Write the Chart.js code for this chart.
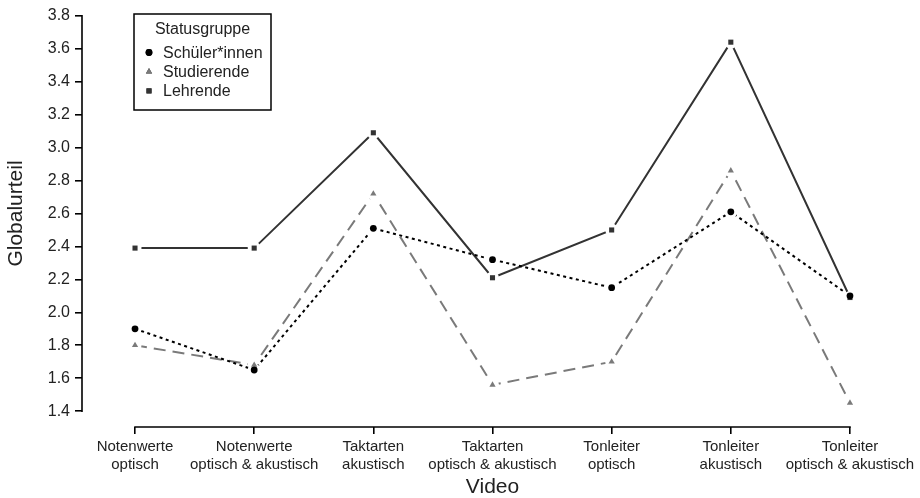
<!DOCTYPE html>
<html>
<head>
<meta charset="utf-8">
<script src="https://cdn.jsdelivr.net/npm/chart.js@4/dist/chart.umd.min.js"></script>
<style>
  html, body { margin: 0; padding: 0; background: #fff; }
  #wrap { width: 920px; height: 498px; }
</style>
</head>
<body>
<div id="wrap"><canvas id="c" width="920" height="498"></canvas></div>
<script>
// Video categories (two-line tick labels)
const categories = [
  ['Notenwerte', 'optisch'],
  ['Notenwerte', 'optisch & akustisch'],
  ['Taktarten', 'akustisch'],
  ['Taktarten', 'optisch & akustisch'],
  ['Tonleiter', 'optisch'],
  ['Tonleiter', 'akustisch'],
  ['Tonleiter', 'optisch & akustisch']
];

// Mean global rating per status group
const seriesNames = ['Schüler*innen', 'Studierende', 'Lehrende'];
const schueler    = [1.90, 1.65, 2.51, 2.32, 2.15, 2.61, 2.10];
const studierende = [1.80, 1.68, 2.72, 1.56, 1.70, 2.86, 1.45];
const lehrende    = [2.39, 2.39, 3.09, 2.21, 2.50, 3.64, 2.09];

const yTicks = [1.4, 1.6, 1.8, 2.0, 2.2, 2.4, 2.6, 2.8, 3.0, 3.2, 3.4, 3.6, 3.8];
const legendTitle = 'Statusgruppe';
const xTitle = 'Video';
const yTitle = 'Globalurteil';

const FONT = 'Liberation Sans, Arial, Helvetica, sans-serif';
const TEXT = '#222';

const toPoints = vals => vals.map((v, i) => ({ x: i + 1, y: v }));

const datasets = [
  {
    label: seriesNames[0], data: toPoints(schueler),
    borderColor: '#000', backgroundColor: '#000', borderWidth: 2,
    borderDash: [3, 3.5], pointStyle: 'circle', pointRadius: 3.4,
    pointBackgroundColor: '#000', pointBorderWidth: 0
  },
  {
    label: seriesNames[1], data: toPoints(studierende),
    borderColor: '#7a7a7a', backgroundColor: '#7a7a7a', borderWidth: 2,
    borderDash: [12, 7], pointStyle: 'triangle', pointRadius: 3.6,
    pointBackgroundColor: '#7a7a7a', pointBorderWidth: 0
  },
  {
    label: seriesNames[2], data: toPoints(lehrende),
    borderColor: '#333', backgroundColor: '#333', borderWidth: 2,
    pointStyle: 'rect', pointRadius: 3.6,
    pointBackgroundColor: '#333', pointBorderWidth: 0
  }
];

// Leave a small gap in each line around its own markers (type "b" look)
const GAP = 6.5;
const markerGaps = {
  id: 'markerGaps',
  beforeDatasetDraw(chart, args) {
    const ctx = chart.ctx;
    ctx.save();
    ctx.beginPath();
    ctx.rect(0, 0, chart.width, chart.height);
    args.meta.data.forEach(p => {
      ctx.moveTo(p.x + GAP, p.y);
      ctx.arc(p.x, p.y, GAP, 0, Math.PI * 2);
    });
    ctx.clip('evenodd');
  },
  afterDatasetDraw(chart, args) {
    const ctx = chart.ctx;
    ctx.restore();
    args.meta.data.forEach(p => p.draw(ctx, chart.chartArea));
  }
};

// Axis lines spanning only the first to last tick
const axisLines = {
  id: 'axisLines',
  afterDraw(chart) {
    const { ctx, chartArea, scales } = chart;
    const y = scales.y, x = scales.x;
    ctx.save();
    ctx.strokeStyle = '#000';
    ctx.lineWidth = 1.6;
    ctx.lineCap = 'square';
    ctx.beginPath();
    ctx.moveTo(chartArea.left, y.getPixelForValue(yTicks[0]));
    ctx.lineTo(chartArea.left, y.getPixelForValue(yTicks[yTicks.length - 1]));
    ctx.moveTo(x.getPixelForValue(1), chartArea.bottom);
    ctx.lineTo(x.getPixelForValue(categories.length), chartArea.bottom);
    ctx.stroke();
    ctx.restore();
  }
};

// Boxed legend in the upper left of the plot
const boxLegend = {
  id: 'boxLegend',
  afterDraw(chart) {
    const ctx = chart.ctx;
    const left = 134, top = 14, w = 137, h = 96;
    ctx.save();
    ctx.strokeStyle = '#000';
    ctx.lineWidth = 1.5;
    ctx.strokeRect(left, top, w, h);
    ctx.fillStyle = TEXT;
    ctx.font = '16px ' + FONT;
    ctx.textAlign = 'center';
    ctx.textBaseline = 'alphabetic';
    ctx.fillText(legendTitle, left + w / 2, 34);
    ctx.textAlign = 'left';
    ctx.textBaseline = 'middle';
    chart.data.datasets.forEach((ds, i) => {
      const cy = 52.5 + i * 19.2;
      Chart.helpers.drawPoint(ctx, {
        pointStyle: ds.pointStyle, radius: ds.pointRadius, rotation: 0,
        borderWidth: 0
      }, left + 15, cy);
      ctx.fillStyle = ds.pointBackgroundColor;
      ctx.fill();
      ctx.fillStyle = TEXT;
      ctx.fillText(ds.label, left + 29, cy + 1);
    });
    ctx.restore();
  }
};

new Chart(document.getElementById('c'), {
  type: 'line',
  data: { datasets },
  plugins: [markerGaps, axisLines, boxLegend],
  options: {
    responsive: false,
    animation: false,
    layout: { autoPadding: false, padding: { left: 0, right: 17, top: 0, bottom: 0 } },
    plugins: { legend: { display: false }, tooltip: { enabled: false } },
    scales: {
      x: {
        type: 'linear', min: 0.555, max: 7.445,
        afterBuildTicks: s => { s.ticks = categories.map((c, i) => ({ value: i + 1 })); },
        afterFit: s => { s.height = 71; },
        ticks: {
          callback: (v) => categories[Math.round(v) - 1],
          color: TEXT, font: { family: FONT, size: 15, lineHeight: 1.2 },
          padding: 4, maxRotation: 0, autoSkip: false
        },
        grid: { drawOnChartArea: false, drawTicks: true, tickLength: 7, color: '#000', lineWidth: 1.6 },
        border: { display: false },
        title: {
          display: true, text: xTitle, color: TEXT,
          font: { family: FONT, size: 21 }, padding: { top: 0, bottom: -2 }
        }
      },
      y: {
        type: 'linear', min: 1.304, max: 3.896,
        afterBuildTicks: s => { s.ticks = yTicks.map(v => ({ value: v })); },
        afterFit: s => { s.width = 82; s.paddingTop = 0; s.paddingBottom = 0; },
        ticks: {
          callback: v => v.toFixed(1),
          color: TEXT, font: { family: FONT, size: 16 }, padding: 5
        },
        grid: { drawOnChartArea: false, drawTicks: true, tickLength: 7, color: '#000', lineWidth: 1.6 },
        border: { display: false },
        title: {
          display: true, text: yTitle, color: TEXT,
          font: { family: FONT, size: 21 }, padding: { top: 4, bottom: 0 }
        }
      }
    }
  }
});
</script>
</body>
</html>
